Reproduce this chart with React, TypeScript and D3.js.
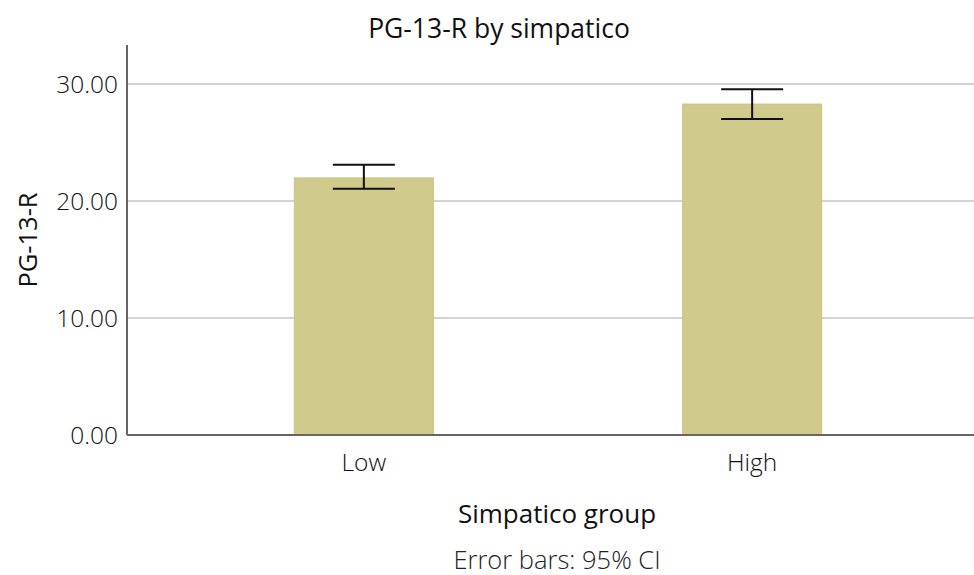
import React from 'react';
import * as d3 from 'd3';

// data
const groups = ['Low', 'High'];
const means = [21.97, 28.28];
const ciLow = [21.05, 27.0];
const ciHigh = [23.1, 29.55];
const yTicks = [0, 10, 20, 30];

const App = () => {
  const width = 974;
  const height = 575;
  const margin = { top: 45, bottom: 140, left: 127, right: 0 };
  const plotBottom = height - margin.bottom;

  const xScale = d3.scalePoint<string>()
    .domain(groups)
    .range([margin.left, 989])
    .padding(0.61);

  const yScale = d3.scaleLinear()
    .domain([0, 33.33])
    .range([plotBottom, margin.top]);

  const barWidth = 139;
  const capWidth = 62;
  const font = '"Open Sans", "Noto Sans", sans-serif';

  return (
    <svg
      width={width}
      height={height}
      style={{ position: 'absolute', left: 0, top: 0, background: 'white' }}
      fontFamily={font}
      fontWeight={300}
    >
      {/* gridlines */}
      {yTicks.filter(t => t > 0).map(t => (
        <line key={t} x1={margin.left} x2={width} y1={yScale(t)} y2={yScale(t)} stroke='#c4c4c4' strokeWidth={1.5}/>
      ))}

      {/* bars */}
      {groups.map((g, i) => (
        <rect
          key={g}
          x={(xScale(g) as number) - barWidth / 2}
          y={yScale(means[i])}
          width={barWidth}
          height={plotBottom - yScale(means[i])}
          fill='#d0cb8c'
          stroke='#c9c37c'
          strokeWidth={1}
        />
      ))}

      {/* error bars */}
      {groups.map((g, i) => {
        const cx = xScale(g) as number;
        return (
          <g key={g} stroke='#111' strokeWidth={2}>
            <line x1={cx} x2={cx} y1={yScale(ciLow[i])} y2={yScale(ciHigh[i])}/>
            <line x1={cx - capWidth / 2} x2={cx + capWidth / 2} y1={yScale(ciLow[i])} y2={yScale(ciLow[i])}/>
            <line x1={cx - capWidth / 2} x2={cx + capWidth / 2} y1={yScale(ciHigh[i])} y2={yScale(ciHigh[i])}/>
          </g>
        );
      })}

      {/* axes */}
      <line x1={margin.left} x2={margin.left} y1={margin.top} y2={plotBottom} stroke='#666' strokeWidth={2}/>
      <line x1={margin.left} x2={width} y1={plotBottom} y2={plotBottom} stroke='#666' strokeWidth={2}/>

      {yTicks.map(t => (
        <text key={t} x={margin.left - 9} y={yScale(t)} dy='0.35em' textAnchor='end' fontSize={24.5} fill='#111'>
          {d3.format('.2f')(t)}
        </text>
      ))}
      {groups.map(g => (
        <text key={g} x={xScale(g) as number} y={471} textAnchor='middle' fontSize={24.5} fill='#111'>{g}</text>
      ))}

      {/* titles */}
      <text x={499} y={38} textAnchor='middle' fontSize={26.5} fontWeight={400} fill='#111'>PG-13-R by simpatico</text>
      <text x={557} y={523} textAnchor='middle' fontSize={26} fontWeight={400} fill='#111'>Simpatico group</text>
      <text x={557} y={569} textAnchor='middle' fontSize={25.5} fill='#222'>Error bars: 95% CI</text>
      <text transform={`translate(37, ${240}) rotate(-90)`} textAnchor='middle' fontSize={25.5} fontWeight={400} fill='#111'>PG-13-R</text>
    </svg>
  );
};

export default App;
